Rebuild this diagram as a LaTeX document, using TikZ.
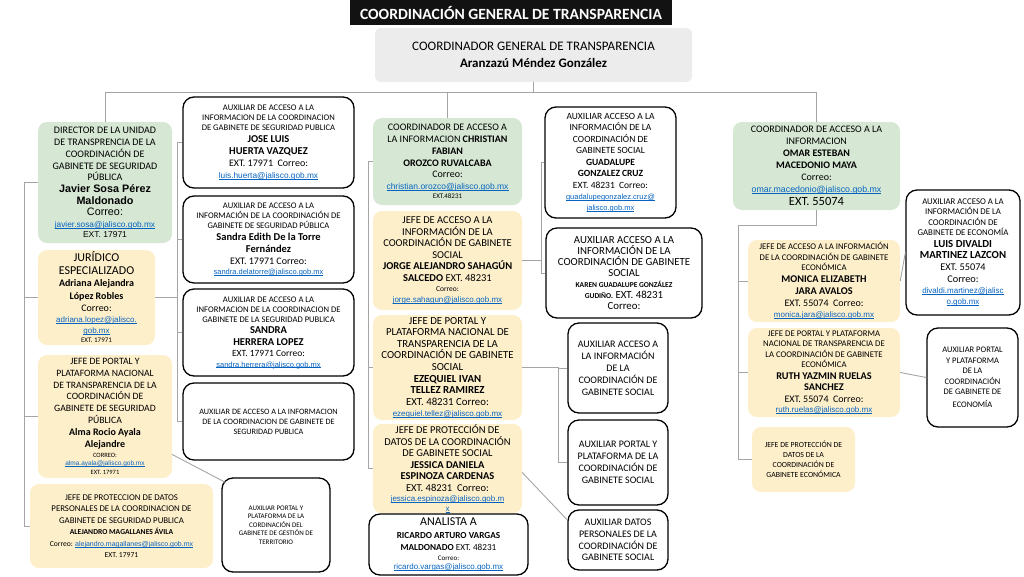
\documentclass[tikz,border=0pt]{standalone}
\usepackage{fontspec}
\setmainfont{Carlito}
\newfontfamily\arialf{Liberation Sans}
\usepackage{xcolor}
\definecolor{hdrblack}{RGB}{18,18,18}
\definecolor{topgray}{RGB}{236,236,236}
\definecolor{boxgreen}{RGB}{214,232,212}
\definecolor{boxcream}{RGB}{254,239,203}
\definecolor{linegray}{RGB}{165,165,165}
\definecolor{linkblue}{RGB}{5,99,193}
\setlength{\parindent}{0pt}
\setlength{\parskip}{0pt}
\newcommand{\fsz}[2]{\fontsize{#1}{#2}\selectfont}
\newsavebox{\lnkbox}
\newcommand{\lnk}[1]{\textcolor{linkblue}{\sbox{\lnkbox}{#1}\rlap{\rule[-0.13em]{\wd\lnkbox}{0.07em}}\usebox{\lnkbox}}}
\usetikzlibrary{positioning}

\begin{document}
\begin{tikzpicture}[x=1pt,y=-1pt,
  gbox/.style={fill=boxgreen,rounded corners=9pt,align=flush center,inner xsep=0pt,inner ysep=1pt},
  cbox/.style={fill=boxcream,rounded corners=9pt,align=flush center,inner xsep=0pt,inner ysep=1pt},
  wbox/.style={draw=black,line width=1.3pt,fill=white,rounded corners=11pt,align=flush center,inner xsep=0pt,inner ysep=1pt},
  sz/.style 2 args={text width=#1pt,minimum height=#2pt},
  conn/.style={draw=linegray,line width=0.9pt}
]
  \useasboundingbox (0,0) rectangle (1024,576);

  \node[fill=hdrblack,text=white,minimum width=322pt,minimum height=25pt,inner sep=0pt,font=\fsz{15.6}{17}\bfseries] (hdr) at (511,12.5) {COORDINACIÓN GENERAL DE TRANSPARENCIA};
  \node[fill=topgray,rounded corners=6pt,align=flush center,inner xsep=0pt,sz={317}{54}] (cgt) at (533.5,55) {\fsz{13}{17}COORDINADOR GENERAL DE TRANSPARENCIA\par \bfseries Aranzazú Méndez González\par};

  \node[gbox,sz={134}{121}] (dir) at (105,182.5) {\fsz{10}{11.7}DIRECTOR DE LA UNIDAD\par DE TRANSPRENCIA DE LA\par COORDINACIÓN DE\par GABINETE DE SEGURIDAD\par PÚBLICA\par \arialf\bfseries\fsz{10.8}{11.7}Javier Sosa Pérez\par Maldonado\par \mdseries Correo:\par \fsz{8.3}{11.7}\lnk{javier.sosa@jalisco.gob.mx}\par \fsz{8.5}{10}EXT. 17971\par};
  \node[cbox,sz={117}{95}] (jur) at (96.5,297.5) {\fsz{12}{12.5}JURÍDICO\par ESPECIALIZADO\par \bfseries\fsz{10}{12.5}Adriana Alejandra\par López Robles\par \mdseries\fsz{10}{12}Correo:\par \arialf\fsz{8}{11}\lnk{adriana.lopez@jalisco.}\par \lnk{gob.mx}\par \rmfamily\fsz{7}{9.5}EXT. 17971\par};
  \node[cbox,sz={134}{123}] (jport) at (105,416.5) {\fsz{9.7}{11.7}JEFE DE PORTAL Y\par PLATAFORMA NACIONAL\par DE TRANSPARENCIA DE LA\par COORDINACIÓN DE\par GABINETE DE SEGURIDAD\par PÚBLICA\par \bfseries\fsz{10}{12}Alma Rocio Ayala\par Alejandre\par \mdseries\fsz{6.5}{10}CORREO:\par \arialf\fsz{6.5}{8.5}\lnk{alma.ayala@jalisco.gob.mx}\par \rmfamily EXT. 17971\par};
  \node[cbox,sz={183}{84}] (jprot) at (121.5,526) {\fsz{8.8}{11.5}JEFE DE PROTECCION DE DATOS\par PERSONALES DE LA COORDINACION DE\par GABINETE DE SEGURIDAD PUBLICA\par \bfseries\fsz{7.6}{11.5}ALEJANDRO MAGALLANES ÁVILA\par \mdseries Correo: {\arialf\fsz{7}{11.5}\lnk{alejandro.magallanes@jalisco.gob.mx}}\par EXT. 17971\par};

  \node[wbox,sz={171}{91}] (aux1) at (268.5,142.5) {\fsz{8.6}{10}AUXILIAR DE ACCESO A LA\par INFORMACION DE LA COORDINACION\par DE GABINETE DE SEGURIDAD PUBLICA\par \bfseries\fsz{10.5}{12}JOSE LUIS\par HUERTA VAZQUEZ\par \mdseries\fsz{10}{11.5}EXT. 17971~ Correo:\par \arialf\fsz{8.3}{12}\lnk{luis.huerta@jalisco.gob.mx}\par};
  \node[wbox,sz={171}{87}] (aux2) at (268.5,239.5) {\fsz{8.6}{10}AUXILIAR DE ACCESO A LA\par INFORMACIÓN DE LA COORDINACIÓN DE\par GABINETE DE SEGURIDAD PÚBLICA\par \bfseries\fsz{10.5}{12}Sandra Edith De la Torre\par Fernández\par \mdseries\fsz{10}{11.5}EXT. 17971 Correo:\par \arialf\fsz{7.5}{10.5}\lnk{sandra.delatorre@jalisco.gob.mx}\par};
  \node[wbox,sz={171}{87}] (aux3) at (268.5,332.5) {\fsz{8.6}{10}AUXILIAR DE ACCESO A LA\par INFORMACION DE LA COORDINACION DE\par GABINETE DE LA SEGURIDAD PUBLICA\par \bfseries\fsz{10.5}{11.5}SANDRA\par HERRERA LOPEZ\par \mdseries\fsz{9.5}{11}EXT. 17971 Correo:\par \arialf\fsz{7.5}{11}\lnk{sandra.herrera@jalisco.gob.mx}\par};
  \node[wbox,sz={171}{77}] (aux4) at (268.5,421.5) {\fsz{8.2}{10}AUXILIAR DE ACCESO A LA INFORMACION\par DE LA COORDINACION DE GABINETE DE\par SEGURIDAD PUBLICA\par};
  \node[wbox,sz={108}{94}] (aux5) at (276,525) {\fsz{7}{8.5}AUXILIAR PORTAL Y\par PLATAFORMA DE LA\par CORDINACIÓN DEL\par GABINETE DE GESTIÓN DE\par TERRITORIO\par};

  \node[gbox,sz={149}{87}] (c1) at (447.5,161.5) {\fsz{10}{11.8}COORDINADOR DE ACCESO A\par LA INFORMACION \textbf{CHRISTIAN}\par \textbf{FABIAN}\par \textbf{OROZCO RUVALCABA}\par Correo:\par \arialf\fsz{8.5}{11.5}\lnk{christian.orozco@jalisco.gob.mx}\par \rmfamily\fsz{7}{9.5}EXT.48231\par};
  \node[cbox,sz={149}{99}] (c2) at (447.5,260.5) {\fsz{10.5}{11.5}JEFE DE ACCESO A LA\par INFORMACIÓN DE LA\par COORDINACIÓN DE GABINETE\par SOCIAL\par \textbf{JORGE ALEJANDRO SAHAGÚN}\par \textbf{SALCEDO} EXT. 48231\par \fsz{7.5}{10.5}Correo:\par \arialf\fsz{8}{11}\lnk{jorge.sahagun@jalisco.gob.mx}\par};
  \node[cbox,sz={149}{105}] (c3) at (447.5,367.5) {\fsz{10.8}{11.6}JEFE DE PORTAL Y\par PLATAFORMA NACIONAL DE\par TRANSPARENCIA DE LA\par COORDINACIÓN DE GABINETE\par SOCIAL\par \textbf{EZEQUIEL IVAN}\par \textbf{TELLEZ RAMIREZ}\par EXT. 48231 Correo:\par \arialf\fsz{8}{11}\lnk{ezequiel.tellez@jalisco.gob.mx}\par};
  \node[cbox,sz={149}{89}] (c4) at (447.5,468.5) {\fsz{10.5}{11.5}JEFE DE PROTECCIÓN DE\par DATOS DE LA COORDINACIÓN\par DE GABINETE SOCIAL\par \textbf{JESSICA DANIELA}\par \textbf{ESPINOZA CARDENAS}\par EXT. 48231~ Correo:\par \arialf\fsz{8}{10}\lnk{jessica.espinoza@jalisco.gob.m}\par \lnk{x}\par};
  \node[wbox,sz={159}{61}] (c5) at (448.5,544.5) {\fsz{12}{12.5}ANALISTA A\par \fsz{9.2}{12.5}\textbf{RICARDO ARTURO VARGAS}\par \textbf{MALDONADO} EXT. 48231\par \fsz{7}{10}Correo:\par \arialf\fsz{8}{9}\lnk{ricardo.vargas@jalisco.gob.mx}\par};

  \node[wbox,sz={131}{111}] (s1) at (610.5,162.5) {\fsz{9.5}{11.5}AUXILIAR ACCESO A LA\par INFORMACIÓN DE LA\par COORDINACIÓN DE\par GABINETE SOCIAL\par \textbf{GUADALUPE}\par \textbf{GONZALEZ CRUZ}\par EXT. 48231~ Correo:\par \arialf\fsz{7.5}{11}\lnk{guadalupegonzalez.cruz@}\par \lnk{jalisco.gob.mx}\par};
  \node[wbox,sz={156}{90}] (s2) at (624,273) {\fsz{10.8}{11}AUXILIAR ACCESO A LA\par INFORMACIÓN DE LA\par COORDINACIÓN DE GABINETE\par SOCIAL\par \bfseries\fsz{7.5}{11}KAREN GUADALUPE GONZÁLEZ\par GUDIÑO.\mdseries\fsz{10.8}{11} EXT. 48231\par Correo:\par};
  \node[wbox,sz={100}{90}] (s3) at (618,368) {\fsz{10}{12}AUXILIAR ACCESO A\par LA INFORMACIÓN\par DE LA\par COORDINACIÓN DE\par GABINETE SOCIAL\par};
  \node[wbox,sz={100}{85}] (s4) at (618,462.5) {\fsz{10}{12}AUXILIAR PORTAL Y\par PLATAFORMA DE LA\par COORDINACIÓN DE\par GABINETE SOCIAL\par};
  \node[wbox,sz={100}{60}] (s5) at (618,540) {\fsz{10}{11.8}AUXILIAR DATOS\par PERSONALES DE LA\par COORDINACIÓN DE\par GABINETE SOCIAL\par};

  \node[gbox,sz={167}{88}] (e1) at (816.5,166) {\fsz{10}{12}COORDINADOR DE ACCESO A LA\par INFORMACION\par \textbf{OMAR ESTEBAN}\par \textbf{MACEDONIO MAYA}\par Correo:\par \arialf\fsz{8.8}{12}\lnk{omar.macedonio@jalisco.gob.mx}\par \rmfamily\fsz{12.5}{13}EXT. 55074\par};
  \node[cbox,sz={152}{82}] (e2) at (824,281) {\fsz{8.7}{10.5}JEFE DE ACCESO A LA INFORMACIÓN\par DE LA COORDINACIÓN DE GABINETE\par ECONÓMICA\par \bfseries\fsz{10.3}{12}MONICA ELIZABETH\par JARA AVALOS\par \mdseries\fsz{10}{11.5}EXT. 55074~ Correo:\par \arialf\fsz{8}{11.5}\lnk{monica.jara@jalisco.gob.mx}\par};
  \node[cbox,sz={152}{89}] (e3) at (824,372.5) {\fsz{8.7}{10.5}JEFE DE PORTAL Y PLATAFORMA\par NACIONAL DE TRANSPARENCIA DE\par LA COORDINACIÓN DE GABINETE\par ECONÓMICA\par \bfseries\fsz{10.3}{11.5}RUTH YAZMIN RUELAS\par SANCHEZ\par \mdseries\fsz{10}{11.5}EXT. 55074~ Correo:\par \arialf\fsz{8}{10.5}\lnk{ruth.ruelas@jalisco.gob.mx}\par};
  \node[cbox,sz={103}{65}] (e4) at (803.5,459.5) {\fsz{7.8}{10}JEFE DE PROTECCIÓN DE\par DATOS DE LA\par COORDINACIÓN DE\par GABINETE ECONÓMICA\par};
  \node[wbox,sz={114}{125}] (e5) at (963,252.5) {\fsz{8.8}{10.2}AUXILIAR ACCESO A LA\par INFORMACIÓN DE LA\par COORDINACIÓN DE\par GABINETE DE ECONOMÍA\par \bfseries\fsz{10.8}{11.8}LUIS DIVALDI\par MARTINEZ LAZCON\par \mdseries\fsz{10.3}{11.8}EXT. 55074\par Correo:\par \arialf\fsz{8}{11}\lnk{divaldi.martinez@jalisc}\par \lnk{o.gob.mx}\par};
  \node[wbox,sz={91}{99}] (e6) at (972.5,377.5) {\fsz{8.5}{10.5}AUXILIAR PORTAL\par Y PLATAFORMA\par DE LA\par COORDINACIÓN\par DE GABINETE DE\par \fsz{8.5}{12.5}ECONOMÍA\par};

  \coordinate (lb) at (24,0);
  \coordinate (mb) at (177,0);
  \coordinate (cb) at (368,0);
  \coordinate (sb1) at (541,0);
  \coordinate (sb2) at (558,0);
  \coordinate (rb) at (738,0);

  \draw[conn] (cgt.south) -- ++(0,10) -| (dir.north);
  \draw[conn] (cgt.south) -- ++(0,10) -| (c1.north);
  \draw[conn] (cgt.south) -- ++(0,10) -| (e1.north);
  \draw[conn] (dir.west) -- (lb |- dir.west) -- (lb |- jprot.west) -- (jprot.west);
  \draw[conn] (lb |- jur.west) -- (jur.west);
  \draw[conn] (lb |- jport.west) -- (jport.west);
  \draw[conn] (jur.east) -- (mb |- jur.east);
  \draw[conn] (mb |- aux1.west) -- (mb |- aux4.west);
  \foreach \n in {aux1,aux2,aux3,aux4}
    \draw[conn] (mb |- \n.west) -- (\n.west);
  \draw[conn] ([yshift=-38pt]jport.east) -- ([xshift=4pt,yshift=-5pt]aux5.north west);
  \draw[conn] (c1.west) -- (cb |- c1.west) -- (cb |- c4.west) -- (c4.west);
  \draw[conn] (cb |- c3.west) -- (c3.west);
  \draw[conn] (s1.west) -- (sb1 |- s1.west) -- (sb1 |- s2.west) -- (s2.west);
  \draw[conn] (c2.east) -- (sb1 |- c2.east);
  \draw[conn] (c3.east) -- (sb2 |- c3.east) -- (sb2 |- s4.west) -- (s4.west);
  \draw[conn] (sb2 |- s3.west) -- (s3.west);
  \draw[conn] ([yshift=-4pt]c4.east) -- ([yshift=20pt]s5.west);
  \draw[conn] (e1.south) -- ++(0,15) -| (rb |- e4.west) -- (e4.west);
  \draw[conn] (rb |- e2.west) -- (e2.west);
  \draw[conn] (rb |- e3.west) -- (e3.west);
  \draw[conn] (e2.east) -- (e5.west);
  \draw[conn] (e3.east) -- (e6.west);
\end{tikzpicture}
\end{document}
